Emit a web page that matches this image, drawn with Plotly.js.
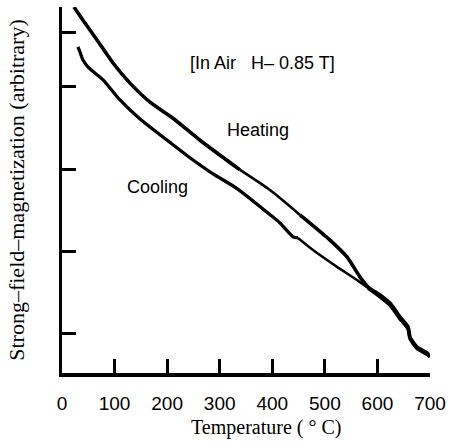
<!DOCTYPE html>
<html>
<head>
<meta charset="utf-8">
<script src="https://cdn.plot.ly/plotly-3.0.1.min.js"></script>
<style>
  html, body { margin: 0; padding: 0; background: #fff; }
  #chart { width: 455px; height: 447px; }
</style>
</head>
<body>
<div id="chart"></div>
<script>
// Strong-field thermomagnetic run in air (H = 0.85 T), arbitrary magnetization units.
const heatingT = [22.8, 39.9, 66.6, 97.0, 129.4, 167.4, 211.1, 262.5, 338.6, 395.7, 452.7,
                  509.8, 542.1, 566.9, 582.1, 604.9, 623.9, 643.0, 658.2, 662.0, 675.3, 694.3, 700];
const heatingM = [100, 96.4, 91.0, 84.7, 79.2, 74.0, 69.6, 63.6, 55.5, 50.0, 43.2,
                  36.3, 31.7, 26.2, 23.5, 21.3, 19.1, 15.3, 12.6, 9.8, 7.1, 5.5, 4.6];

const coolingT = [30.4, 34.2, 39.9, 49.5, 78.0, 110.3, 148.4, 205.4, 243.5, 287.2, 332.9, 401.4,
                  414.7, 439.4, 448.9, 477.5, 523.1, 561.2, 582.1, 604.9, 623.9, 643.0, 658.2, 662.0,
                  675.3, 694.3, 700];
const coolingM = [89.1, 87.7, 85.5, 83.6, 80.1, 74.6, 69.4, 63.0, 58.8, 54.4, 50.4, 42.6,
                  41.0, 37.2, 36.9, 33.6, 29.0, 25.4, 23.2, 20.8, 18.6, 14.8, 12.1, 9.4,
                  6.7, 5.1, 4.4];

const xTicks = [0, 100, 200, 300, 400, 500, 600, 700];
const xTickText = ['0', '100', '200', '300', '400', '500', '600', '700'];
const yTicks = [10.9, 33.1, 55.5, 78.4, 92.9];

const sans = 'Liberation Sans, Arial, sans-serif';
const serif = 'Liberation Serif, Times New Roman, serif';

// The pen trace varies in weight along each curve: draw each run as pieces
// [start index, end index, line width] over the shared point arrays.
const heatingPieces = [[0, 8, 3.6], [8, 10, 2.6], [10, 22, 3.6]];
const coolingPieces = [[0, 14, 3.3], [14, 18, 2.5], [18, 26, 3.6]];

function pieces(xs, ys, parts, name) {
  return parts.map(function (p) {
    return {
      x: xs.slice(p[0], p[1] + 1), y: ys.slice(p[0], p[1] + 1),
      name: name, type: 'scatter', mode: 'lines',
      line: { color: '#000', width: p[2], shape: 'spline', smoothing: 0.6 },
      hoverinfo: 'skip'
    };
  });
}

const traces = pieces(heatingT, heatingM, heatingPieces, 'Heating')
  .concat(pieces(coolingT, coolingM, coolingPieces, 'Cooling'));

const axisCommon = {
  showline: true, linecolor: '#000', linewidth: 3.5,
  ticks: 'inside', ticklen: 14, tickwidth: 3, tickcolor: '#000',
  showgrid: false, zeroline: false, fixedrange: true
};

const layout = {
  width: 455, height: 447,
  margin: { l: 62, r: 25, t: 7, b: 74 },
  paper_bgcolor: '#fff', plot_bgcolor: '#fff',
  showlegend: false,
  xaxis: Object.assign({}, axisCommon, {
    range: [0, 700],
    tickmode: 'array', tickvals: xTicks, ticktext: xTickText,
    tickfont: { family: sans, size: 19, color: '#000' },
    ticklabelstandoff: 11
  }),
  yaxis: Object.assign({}, axisCommon, {
    range: [0, 100],
    tickmode: 'array', tickvals: yTicks, showticklabels: false,
    title: {
      text: 'Strong–field–magnetization (arbitrary)',
      font: { family: serif, size: 22, color: '#000' },
      standoff: 29
    }
  }),
  annotations: [
    {
      text: '[In Air&nbsp;&nbsp;&nbsp;H– 0.85 T]', x: 382, y: 84.7, xref: 'x', yref: 'y',
      showarrow: false, xanchor: 'center', yanchor: 'middle',
      font: { family: sans, size: 18, color: '#000' }
    },
    {
      text: 'Heating', x: 372.8, y: 66.4, xref: 'x', yref: 'y',
      showarrow: false, xanchor: 'center', yanchor: 'middle',
      font: { family: sans, size: 18, color: '#000' }
    },
    {
      text: 'Cooling', x: 180.7, y: 50.8, xref: 'x', yref: 'y',
      showarrow: false, xanchor: 'center', yanchor: 'middle',
      font: { family: sans, size: 18, color: '#000' }
    },
    {
      text: 'Temperature ( ° C)', x: 0.554, y: -0.15, xref: 'paper', yref: 'paper',
      showarrow: false, xanchor: 'center', yanchor: 'middle',
      font: { family: serif, size: 20, color: '#000' }
    }
  ]
};

Plotly.newPlot('chart', traces, layout, { staticPlot: true, displayModeBar: false });
</script>
</body>
</html>
